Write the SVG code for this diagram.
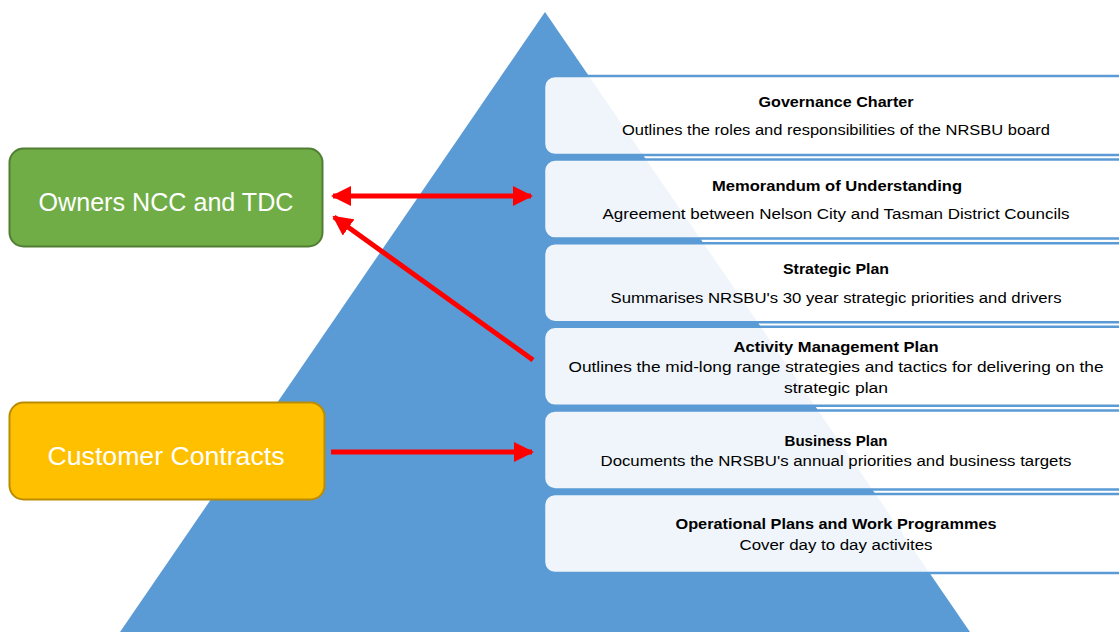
<svg xmlns="http://www.w3.org/2000/svg" width="1119" height="632" viewBox="0 0 1119 632">
<style>
.box{fill:#FFFFFF;fill-opacity:0.9;stroke:#5B9BD5;stroke-width:2.5}
.t{font-family:"Liberation Sans",Arial,sans-serif;font-size:15.5px;font-weight:bold;fill:#000;text-anchor:middle}
.d{font-family:"Liberation Sans",Arial,sans-serif;font-size:15.5px;fill:#000;text-anchor:middle}
.big{font-family:"Liberation Sans",Arial,sans-serif;font-size:26px;fill:#FFFFFF;text-anchor:middle}
.arr{stroke:#FF0000;stroke-width:5;fill:none}
</style>
<defs>
<marker id="ah" viewBox="0 0 10 10" refX="9" refY="5" markerWidth="4" markerHeight="4" orient="auto-start-reverse" markerUnits="strokeWidth">
<path d="M0,0 L10,5 L0,10 z" fill="#FF0000"/>
</marker>
</defs>
<rect width="1119" height="632" fill="#FFFFFF"/>
<g id="pyramid">
<polygon points="545,12 970,632 120,632" fill="#5B9BD5"/>
</g>
<g id="governance-charter">
<rect class="box" x="544" y="76" width="600" height="79" rx="11"/>
<text class="t" x="836" y="107" textLength="155" lengthAdjust="spacingAndGlyphs">Governance Charter</text>
<text class="d" x="836" y="135" textLength="428" lengthAdjust="spacingAndGlyphs">Outlines the roles and responsibilities of the NRSBU board</text>
</g>
<g id="mou">
<rect class="box" x="544" y="159.6" width="600" height="79" rx="11"/>
<text class="t" x="837" y="191" textLength="250" lengthAdjust="spacingAndGlyphs">Memorandum of Understanding</text>
<text class="d" x="836" y="219" textLength="467" lengthAdjust="spacingAndGlyphs">Agreement between Nelson City and Tasman District Councils</text>
</g>
<g id="strategic-plan">
<rect class="box" x="544" y="243.2" width="600" height="79" rx="11"/>
<text class="t" x="836" y="274" textLength="106" lengthAdjust="spacingAndGlyphs">Strategic Plan</text>
<text class="d" x="836" y="303" textLength="451" lengthAdjust="spacingAndGlyphs">Summarises NRSBU's 30 year strategic priorities and drivers</text>
</g>
<g id="activity-management-plan">
<rect class="box" x="544" y="326.8" width="600" height="79" rx="11"/>
<text class="t" x="836" y="352" textLength="205" lengthAdjust="spacingAndGlyphs">Activity Management Plan</text>
<text class="d" x="836" y="372" textLength="535" lengthAdjust="spacingAndGlyphs">Outlines the mid-long range strategies and tactics for delivering on the</text>
<text class="d" x="836" y="393" textLength="104" lengthAdjust="spacingAndGlyphs">strategic plan</text>
</g>
<g id="business-plan">
<rect class="box" x="544" y="410.4" width="600" height="79" rx="11"/>
<text class="t" x="836" y="446" textLength="103" lengthAdjust="spacingAndGlyphs">Business Plan</text>
<text class="d" x="836" y="466" textLength="471" lengthAdjust="spacingAndGlyphs">Documents the NRSBU's annual priorities and business targets</text>
</g>
<g id="operational-plans">
<rect class="box" x="544" y="494" width="600" height="79" rx="11"/>
<text class="t" x="836" y="529" textLength="321" lengthAdjust="spacingAndGlyphs">Operational Plans and Work Programmes</text>
<text class="d" x="836" y="550" textLength="193" lengthAdjust="spacingAndGlyphs">Cover day to day activites</text>
</g>
<g id="owners">
<rect x="9.5" y="148.5" width="313" height="98" rx="14" fill="#70AD47" stroke="#507E32" stroke-width="2"/>
<text class="big" x="166" y="211" textLength="255" lengthAdjust="spacingAndGlyphs">Owners NCC and TDC</text>
</g>
<g id="customer-contracts">
<rect x="9.5" y="402.5" width="315" height="97" rx="14" fill="#FFC000" stroke="#BC8C00" stroke-width="2"/>
<text class="big" x="166" y="465" textLength="237" lengthAdjust="spacingAndGlyphs">Customer Contracts</text>
</g>
<g id="connectors">
<line class="arr" x1="333" y1="196" x2="531" y2="196" marker-start="url(#ah)" marker-end="url(#ah)"/>
<line class="arr" x1="533" y1="360" x2="334" y2="217" marker-end="url(#ah)"/>
<line class="arr" x1="331" y1="452" x2="532" y2="452" marker-end="url(#ah)"/>
</g>
</svg>
